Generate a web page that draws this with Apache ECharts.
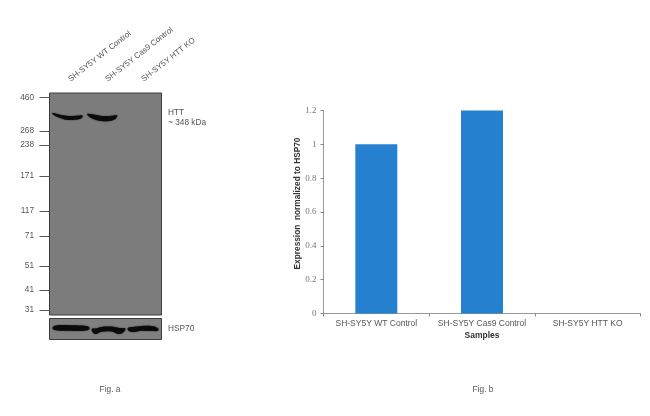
<!DOCTYPE html>
<html>
<head>
<meta charset="utf-8">
<style>html,body{margin:0;padding:0;background:#fff}#c{width:650px;height:416px}</style>
<script src="https://cdn.jsdelivr.net/npm/echarts@6/dist/echarts.min.js"></script>
</head>
<body>
<div id="c"></div>
<script>
// Panel b
const samples = ['SH-SY5Y WT Control', 'SH-SY5Y Cas9 Control', 'SH-SY5Y HTT KO'];
const expression = [1, 1.2, 0];
// Panel a: marker ladder (label and migration distance down the gel)
const mwLabels = ['460', '268', '238', '171', '117', '71', '51', '41', '31'];
const mwMigration = [4.5, 38, 52, 83, 118, 143, 173, 197, 217];
const laneStarts = [20, 57, 93];
// Bands: [lane position, migration distance, half thickness]
const httBand1 = [[3, 20.5, 0.6], [8, 22.5, 1.6], [15, 24.5, 1.9], [23, 25, 1.9], [30, 24.3, 1.7], [33, 23.2, 0.7]];
const httBand2 = [[38, 21.5, 0.8], [43, 23.5, 2.2], [52, 25.5, 2.6], [60, 25.5, 2.6], [65, 24.5, 2.1], [67.5, 23, 0.8]];
const hspBand1 = [[3.5, 9.5, 1.2], [8, 9.3, 2.6], [20, 9.5, 2.8], [33, 9.8, 2.7], [39.5, 9.8, 1.2]];
const hspBand2 = [[42.5, 11.5, 1.2], [46, 12.8, 2.8], [52, 10.8, 2.4], [62, 10.5, 2.4], [70, 12.5, 3], [75.5, 11, 1.2]];
const hspBand3 = [[78.5, 10.5, 1.2], [83, 11, 2.6], [92, 9.8, 2.4], [102, 10, 2.5], [108.5, 11, 1.3]];
const htt = 'HTT';
const httSize = '~ 348 kDa';
const hsp = 'HSP70';
const figA = 'Fig. a';
const figB = 'Fig. b';
const xTitle = 'Samples';
const yTitle = 'Expression  normalized to HSP70';

const sans = '"Liberation Sans", Arial, sans-serif';
const serif = '"Liberation Serif", "Times New Roman", serif';

function bandSeries(points, xAxisIndex, yAxisIndex) {
  return {
    type: 'custom',
    xAxisIndex, yAxisIndex,
    silent: true,
    clip: true,
    data: [0],
    renderItem(params, api) {
      const top = points.map(p => api.coord([p[0], p[1] - p[2]]));
      const bottom = points.map(p => api.coord([p[0], p[1] + p[2]])).reverse();
      return {
        type: 'polygon',
        shape: { points: top.concat(bottom), smooth: 0.35 },
        style: { fill: '#0b0b0b', shadowBlur: 1.5, shadowColor: 'rgba(0,0,0,0.7)' }
      };
    }
  };
}
function text(str, x, y, extra) {
  return {
    type: 'text', x, y,
    style: Object.assign({ text: str, font: '8.3px ' + sans, fill: '#555', align: 'left', verticalAlign: 'middle' }, extra || {})
  };
}

const option = {
  animation: false,
  backgroundColor: '#ffffff',
  grid: [
    { left: 49.5, top: 93, width: 112, height: 222, show: true, backgroundColor: '#7c7c7c', borderColor: '#3c3c3c', borderWidth: 1 },
    { left: 49.5, top: 318.5, width: 112, height: 21, show: true, backgroundColor: '#808080', borderColor: '#3c3c3c', borderWidth: 1 },
    { left: 323.5, top: 110.5, width: 317, height: 203 }
  ],
  xAxis: [
    {
      gridIndex: 0, type: 'value', min: 0, max: 112, position: 'top',
      axisLine: { show: false }, axisTick: { show: false }, splitLine: { show: false },
      axisLabel: {
        show: true, rotate: 38, margin: 13, fontFamily: sans, fontSize: 8, color: '#555',
        customValues: laneStarts,
        formatter: v => samples[laneStarts.indexOf(v)]
      }
    },
    { gridIndex: 1, type: 'value', min: 0, max: 112, show: false },
    {
      gridIndex: 2, type: 'category', data: samples,
      axisLine: { lineStyle: { color: '#999', width: 1 } },
      axisTick: { show: true, length: 3, lineStyle: { color: '#888' }, alignWithLabel: false },
      axisLabel: { fontFamily: sans, fontSize: 8.5, color: '#555', margin: 6, interval: 0 },
      name: xTitle, nameLocation: 'middle', nameGap: 18,
      nameTextStyle: { fontFamily: sans, fontSize: 8.5, fontWeight: 'bold', color: '#333' }
    }
  ],
  yAxis: [
    {
      gridIndex: 0, type: 'value', min: 0, max: 222, inverse: true, offset: 3.5,
      axisLine: { show: false }, splitLine: { show: false },
      axisTick: { show: true, length: 10, lineStyle: { color: '#555', width: 1 }, customValues: mwMigration },
      axisLabel: {
        show: true, margin: 12, fontFamily: sans, fontSize: 8.3, color: '#555',
        customValues: mwMigration,
        formatter: v => mwLabels[mwMigration.indexOf(v)]
      }
    },
    { gridIndex: 1, type: 'value', min: 0, max: 21, inverse: true, show: false },
    {
      gridIndex: 2, type: 'value', min: 0, max: 1.2, interval: 0.2,
      axisLine: { show: true, lineStyle: { color: '#999', width: 1 } },
      axisTick: { show: true, length: 3, lineStyle: { color: '#888' } },
      splitLine: { show: false },
      axisLabel: { fontFamily: serif, fontSize: 9, color: '#777', margin: 7, formatter: v => String(+v.toFixed(1)) }
    }
  ],
  series: [
    bandSeries(httBand1, 0, 0),
    bandSeries(httBand2, 0, 0),
    bandSeries(hspBand1, 1, 1),
    bandSeries(hspBand2, 1, 1),
    bandSeries(hspBand3, 1, 1),
    {
      type: 'bar', xAxisIndex: 2, yAxisIndex: 2, data: expression, barWidth: 42,
      itemStyle: { color: '#2680d0' }, silent: true
    }
  ],
  graphic: [
    text(htt, 168, 112.5),
    text(httSize, 168, 122.5),
    text(hsp, 168, 329),
    text(figA, 110, 390, { align: 'center' }),
    text(figB, 483, 390, { align: 'center' }),
    { type: 'text', x: 298, y: 203.5, rotation: Math.PI / 2,
      style: { text: yTitle, font: 'bold 8.3px ' + sans, fill: '#333', align: 'center', verticalAlign: 'middle' } }
  ]
};
echarts.init(document.getElementById('c'), null, { renderer: 'canvas' }).setOption(option);
</script>
</body>
</html>
